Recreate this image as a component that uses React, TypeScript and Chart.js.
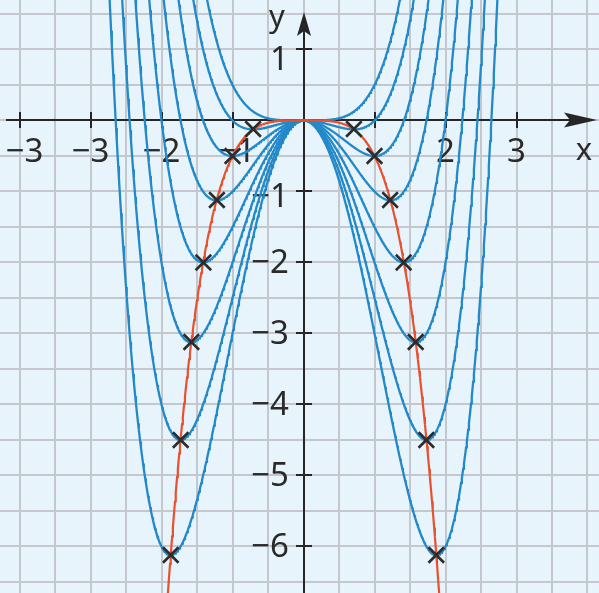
import React, { useEffect, useRef } from "react";
import { Chart, registerables } from "chart.js";

Chart.register(...registerables);

const W = 599;
const H = 593;

// Curve family y = ½·x⁴ − t·x², one curve per parameter t
const curveParams = [0, 0.5, 1, 1.5, 2, 2.5, 3, 3.5];
// Marked minima (right half; the left half is the mirror image)
const minimaX = [0.71, 1.0, 1.22, 1.41, 1.58, 1.73, 1.87];
const minimaY = [-0.12, -0.5, -1.12, -2.0, -3.12, -4.5, -6.12];
// Axis ticks and labels as printed
const xTickMarks = [-4, -3, -2, -1, 1, 2, 3];
const xLabelValues = [-4, -3, -2, -1, 2, 3];
const xLabelTexts = ["−3", "−3", "−2", "−1", "2", "3"];
const yTickMarks = [1, -1, -2, -3, -4, -5, -6];
const yLabelValues = [1, -1, -2, -3, -4, -5, -6];
const yLabelTexts = ["1", "−1", "−2", "−3", "−4", "−5", "−6"];

const X_MIN = -4.275;
const X_MAX = 4.162;
const Y_MIN = -6.655;
const Y_MAX = 1.697;

const BG = "#e7f4fc";
const GRID = "#c4c8cd";
const AXIS = "#262626";
const BLUE = "#2389c8";
const RED = "#e9502f";
const FONT = '"Noto Sans", "Open Sans", sans-serif';

const SAMPLE_STEP = 0.01;
const sampleXs: number[] = [];
for (let i = -430; i <= 430; i++) sampleXs.push(i * SAMPLE_STEP);

const familyCurve = (t: number) => sampleXs.map((x) => ({ x, y: 0.5 * x ** 4 - t * x * x }));
const locusCurve = () => sampleXs.map((x) => ({ x, y: -0.5 * x ** 4 }));

const decorPlugin = {
  id: "decor",
  beforeDatasetsDraw(chart: any) {
    const { ctx, chartArea: a, scales } = chart;
    const xs = scales.x;
    const ys = scales.y;
    const px = (v: number) => xs.getPixelForValue(v);
    const py = (v: number) => ys.getPixelForValue(v);
    ctx.save();
    ctx.fillStyle = BG;
    ctx.fillRect(0, 0, chart.width, chart.height);

    // grid every 0.5 units
    ctx.strokeStyle = GRID;
    ctx.lineWidth = 2;
    ctx.beginPath();
    for (let k = Math.ceil(X_MIN * 2); k / 2 <= X_MAX; k++) {
      const p = Math.round(px(k / 2));
      ctx.moveTo(p, a.top);
      ctx.lineTo(p, a.bottom);
    }
    for (let k = Math.ceil(Y_MIN * 2); k / 2 <= Y_MAX; k++) {
      const p = Math.round(py(k / 2));
      ctx.moveTo(a.left, p);
      ctx.lineTo(a.right, p);
    }
    ctx.stroke();

    const x0 = Math.round(px(0));
    const y0 = Math.round(py(0));

    // axes
    ctx.strokeStyle = AXIS;
    ctx.fillStyle = AXIS;
    ctx.lineWidth = 2;
    ctx.beginPath();
    ctx.moveTo(a.left + 6, y0);
    ctx.lineTo(a.right - 28, y0);
    ctx.moveTo(x0, a.bottom);
    ctx.lineTo(x0, a.top + 28);
    ctx.stroke();

    // arrows
    const tipX = a.right - 2;
    ctx.beginPath();
    ctx.moveTo(tipX, y0);
    ctx.lineTo(tipX - 33, y0 - 7.5);
    ctx.lineTo(tipX - 27, y0);
    ctx.lineTo(tipX - 33, y0 + 7.5);
    ctx.closePath();
    ctx.fill();
    const tipY = a.top + 12;
    ctx.beginPath();
    ctx.moveTo(x0, tipY);
    ctx.lineTo(x0 - 7, tipY + 24);
    ctx.lineTo(x0, tipY + 19);
    ctx.lineTo(x0 + 7, tipY + 24);
    ctx.closePath();
    ctx.fill();

    // tick marks
    ctx.lineWidth = 2;
    ctx.beginPath();
    xTickMarks.forEach((v) => {
      const p = Math.round(px(v));
      ctx.moveTo(p, y0 - 8);
      ctx.lineTo(p, y0 + 8);
    });
    yTickMarks.forEach((v) => {
      const p = Math.round(py(v));
      ctx.moveTo(x0 - 8, p);
      ctx.lineTo(x0 + 8, p);
    });
    ctx.stroke();

    // labels
    ctx.fillStyle = "#2a2a2a";
    ctx.font = `33px ${FONT}`;
    ctx.textAlign = "center";
    ctx.textBaseline = "middle";
    xLabelValues.forEach((v, i) => {
      const shift = v === -4 ? 5 : v === -1 ? 4 : 0;
      ctx.fillText(xLabelTexts[i], px(v) + shift, y0 + 33);
    });
    ctx.textAlign = "right";
    yLabelValues.forEach((v, i) => {
      const shift = v === 1 ? 11 : v === -1 ? 6 : 1;
      ctx.fillText(yLabelTexts[i], x0 - 15, py(v) + shift);
    });
    ctx.textAlign = "center";
    ctx.font = `31px ${FONT}`;
    ctx.fillText("x", 584, y0 + 31);
    ctx.fillText("y", x0 - 27, a.top + 18);
    ctx.restore();
  },
};

export default function App() {
  const canvasRef = useRef<HTMLCanvasElement | null>(null);

  useEffect(() => {
    const canvas = canvasRef.current;
    if (!canvas) return;

    const crossPoints = [
      ...minimaX.map((x, i) => ({ x, y: minimaY[i] })),
      ...minimaX.map((x, i) => ({ x: -x, y: minimaY[i] })),
    ];

    const datasets: any[] = [
      {
        label: "Minima",
        data: crossPoints,
        showLine: false,
        pointStyle: "crossRot",
        pointRadius: 11,
        pointBorderWidth: 2.6,
        borderColor: "#2c2c2c",
        backgroundColor: "#2c2c2c",
        order: 0,
      },
      {
        label: "Ortskurve",
        data: locusCurve(),
        showLine: true,
        borderColor: RED,
        borderWidth: 2.2,
        pointRadius: 0,
        order: 1,
      },
      ...curveParams.map((t) => ({
        label: `t = ${t}`,
        data: familyCurve(t),
        showLine: true,
        borderColor: BLUE,
        borderWidth: 2.3,
        pointRadius: 0,
        order: 2,
      })),
    ];

    const chart = new Chart(canvas, {
      type: "scatter",
      data: { datasets },
      options: {
        animation: false,
        responsive: false,
        events: [],
        layout: { padding: 0, autoPadding: false },
        plugins: { legend: { display: false }, tooltip: { enabled: false } },
        scales: {
          x: { type: "linear", min: X_MIN, max: X_MAX, display: false },
          y: { type: "linear", min: Y_MIN, max: Y_MAX, display: false },
        },
      },
      plugins: [decorPlugin],
    } as any);

    return () => chart.destroy();
  }, []);

  return (
    <div style={{ position: "fixed", left: 0, top: 0, width: W, height: H, background: BG }}>
      <canvas ref={canvasRef} width={W} height={H} style={{ display: "block", width: W, height: H }} />
    </div>
  );
}
